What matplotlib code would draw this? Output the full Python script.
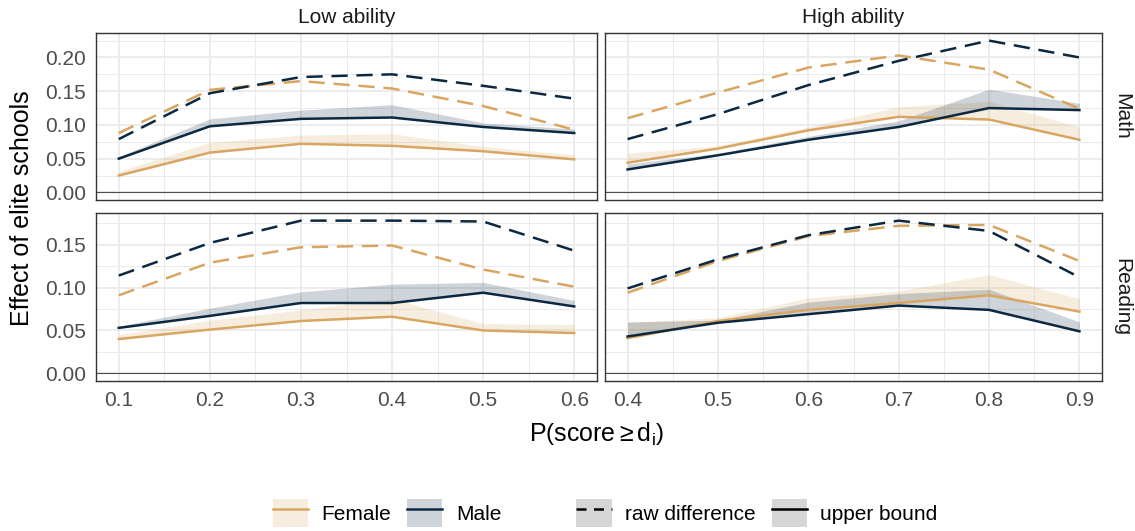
import numpy as np
import matplotlib
matplotlib.use("Agg")
import matplotlib.pyplot as plt
from matplotlib.lines import Line2D
from matplotlib.patches import Patch
from matplotlib.ticker import MultipleLocator, FormatStrFormatter

plt.rcParams['font.family'] = ['Liberation Sans', 'DejaVu Sans']
plt.rcParams['mathtext.fontset'] = 'custom'
plt.rcParams['mathtext.rm'] = 'Liberation Sans'
plt.rcParams['mathtext.it'] = 'Liberation Sans:italic'

# thresholds P(score >= d_i) for each ability group
X_LOW = [0.1, 0.2, 0.3, 0.4, 0.5, 0.6]
X_HIGH = [0.4, 0.5, 0.6, 0.7, 0.8, 0.9]

# math, low ability
MATH_LOW_F_RAW = [0.088, 0.152, 0.165, 0.154, 0.128, 0.093]
MATH_LOW_M_RAW = [0.079, 0.147, 0.171, 0.175, 0.158, 0.139]
MATH_LOW_F_UB = [0.025, 0.059, 0.072, 0.069, 0.061, 0.049]
MATH_LOW_M_UB = [0.050, 0.098, 0.109, 0.111, 0.097, 0.088]
MATH_LOW_F_TOP = [0.031, 0.074, 0.085, 0.087, 0.068, 0.056]
MATH_LOW_M_TOP = [0.053, 0.109, 0.122, 0.130, 0.103, 0.094]

# math, high ability
MATH_HIGH_F_RAW = [0.110, 0.148, 0.185, 0.203, 0.182, 0.124]
MATH_HIGH_M_RAW = [0.079, 0.116, 0.159, 0.195, 0.225, 0.200]
MATH_HIGH_F_UB = [0.044, 0.065, 0.092, 0.112, 0.108, 0.078]
MATH_HIGH_M_UB = [0.034, 0.055, 0.078, 0.097, 0.125, 0.122]
MATH_HIGH_F_TOP = [0.058, 0.069, 0.097, 0.127, 0.135, 0.097]
MATH_HIGH_M_TOP = [0.042, 0.058, 0.083, 0.106, 0.153, 0.132]

# reading, low ability
READ_LOW_F_RAW = [0.091, 0.129, 0.147, 0.149, 0.121, 0.101]
READ_LOW_M_RAW = [0.114, 0.152, 0.178, 0.178, 0.177, 0.143]
READ_LOW_F_UB = [0.040, 0.051, 0.061, 0.066, 0.050, 0.047]
READ_LOW_M_UB = [0.053, 0.067, 0.082, 0.082, 0.094, 0.078]
READ_LOW_F_TOP = [0.045, 0.062, 0.074, 0.087, 0.058, 0.057]
READ_LOW_M_TOP = [0.055, 0.076, 0.095, 0.104, 0.106, 0.085]

# reading, high ability
READ_HIGH_F_RAW = [0.094, 0.131, 0.160, 0.172, 0.173, 0.131]
READ_HIGH_M_RAW = [0.099, 0.133, 0.161, 0.178, 0.166, 0.112]
READ_HIGH_F_UB = [0.041, 0.061, 0.074, 0.082, 0.091, 0.072]
READ_HIGH_M_UB = [0.043, 0.059, 0.069, 0.079, 0.074, 0.049]
READ_HIGH_F_TOP = [0.059, 0.065, 0.088, 0.096, 0.115, 0.087]
READ_HIGH_M_TOP = [0.060, 0.062, 0.083, 0.093, 0.098, 0.060]

COL_LABELS = ["Low ability", "High ability"]
ROW_LABELS = ["Math", "Reading"]
SEX_LABELS = ["Female", "Male"]
TYPE_LABELS = ["raw difference", "upper bound"]

FEMALE = "#D8A662"
MALE = "#0C2841"
GRID = "#EBEBEB"
FRAME = "#333333"
SMALL = 15
BIG = 18

panels = [
    [(X_LOW, MATH_LOW_F_RAW, MATH_LOW_M_RAW, MATH_LOW_F_UB, MATH_LOW_M_UB, MATH_LOW_F_TOP, MATH_LOW_M_TOP),
     (X_HIGH, MATH_HIGH_F_RAW, MATH_HIGH_M_RAW, MATH_HIGH_F_UB, MATH_HIGH_M_UB, MATH_HIGH_F_TOP, MATH_HIGH_M_TOP)],
    [(X_LOW, READ_LOW_F_RAW, READ_LOW_M_RAW, READ_LOW_F_UB, READ_LOW_M_UB, READ_LOW_F_TOP, READ_LOW_M_TOP),
     (X_HIGH, READ_HIGH_F_RAW, READ_HIGH_M_RAW, READ_HIGH_F_UB, READ_HIGH_M_UB, READ_HIGH_F_TOP, READ_HIGH_M_TOP)],
]

W, H = 1135, 531
fig = plt.figure(figsize=(W / 100, H / 100), dpi=100)

# panel boxes in pixels
col_px = [(96, 597), (605, 1102)]
row_px = [(33, 200), (213, 381)]

lw = 1.8
dash = (6.5, 3.5)

for r in range(2):
    # free y scale per row, 5% expansion around [0, max]
    row_max = max(max(max(s) for s in p[1:]) for p in panels[r])
    ylim = (-0.05 * row_max, row_max * 1.05)
    for c in range(2):
        x, f_raw, m_raw, f_ub, m_ub, f_top, m_top = panels[r][c]
        l, rr = col_px[c]
        t, b = row_px[r]
        ax = fig.add_axes([l / W, 1 - b / H, (rr - l) / W, (b - t) / H])

        xspan = x[-1] - x[0]
        ax.set_xlim(x[0] - 0.05 * xspan, x[-1] + 0.05 * xspan)
        ax.set_ylim(*ylim)

        ax.xaxis.set_major_locator(MultipleLocator(0.1))
        ax.xaxis.set_minor_locator(MultipleLocator(0.05))
        ax.yaxis.set_major_locator(MultipleLocator(0.05))
        ax.yaxis.set_minor_locator(MultipleLocator(0.025))
        ax.xaxis.set_major_formatter(FormatStrFormatter("%.1f"))
        ax.yaxis.set_major_formatter(FormatStrFormatter("%.2f"))
        ax.grid(which="major", color=GRID, lw=1.3, zorder=0)
        ax.grid(which="minor", color=GRID, lw=0.7, zorder=0)
        ax.set_axisbelow(True)
        ax.tick_params(which="both", length=0, labelsize=SMALL, labelcolor="#4D4D4D", pad=7)
        if c == 1:
            ax.tick_params(axis="y", labelleft=False)
        if r == 0:
            ax.tick_params(axis="x", labelbottom=False)
            ax.set_title(COL_LABELS[c], fontsize=SMALL, color="#1A1A1A", pad=7)
        if c == 1:
            ax.text(1.02, 0.5, ROW_LABELS[r], transform=ax.transAxes, rotation=-90,
                    ha="left", va="center", fontsize=SMALL, color="#1A1A1A")
        for s in ax.spines.values():
            s.set_color(FRAME)
            s.set_linewidth(1.0)

        ax.axhline(0, color="#4D4D4D", lw=0.8, zorder=1)

        ax.fill_between(x, f_ub, f_top, color=FEMALE, alpha=0.2, lw=0, zorder=2)
        ax.fill_between(x, m_ub, m_top, color=MALE, alpha=0.2, lw=0, zorder=2)
        ax.plot(x, f_raw, color=FEMALE, lw=lw, dashes=dash, zorder=3)
        ax.plot(x, m_raw, color=MALE, lw=lw, dashes=dash, zorder=3)
        ax.plot(x, f_ub, color=FEMALE, lw=lw, zorder=4)
        ax.plot(x, m_ub, color=MALE, lw=lw, zorder=4)

fig.text(22 / W, 1 - 208 / H, "Effect of elite schools", rotation=90,
         ha="center", va="center", fontsize=BIG)
fig.text(597 / W, 1 - 434 / H, r"$\mathrm{P}\left(\mathrm{score} \geq \mathrm{d_i}\right)$",
         ha="center", va="center", fontsize=BIG)

# legends: fill + line keys
sex_handles = [
    (Patch(facecolor=FEMALE, alpha=0.2, lw=0), Line2D([], [], color=FEMALE, lw=lw)),
    (Patch(facecolor=MALE, alpha=0.2, lw=0), Line2D([], [], color=MALE, lw=lw)),
]
type_handles = [
    (Patch(facecolor="#D6D6D6", lw=0), Line2D([], [], color="black", lw=lw, dashes=(4, 3))),
    (Patch(facecolor="#D6D6D6", lw=0), Line2D([], [], color="black", lw=lw)),
]
common = dict(ncol=2, frameon=False, fontsize=SMALL, handlelength=1.7, handleheight=1.7,
              handletextpad=0.65, columnspacing=0.75, borderpad=0, loc="center")
fig.legend(sex_handles, SEX_LABELS, bbox_to_anchor=(387 / W, 1 - 513 / H), **common)
fig.legend(type_handles, TYPE_LABELS, bbox_to_anchor=(757 / W, 1 - 513 / H), **common)

fig.savefig("out.png", dpi=100)
